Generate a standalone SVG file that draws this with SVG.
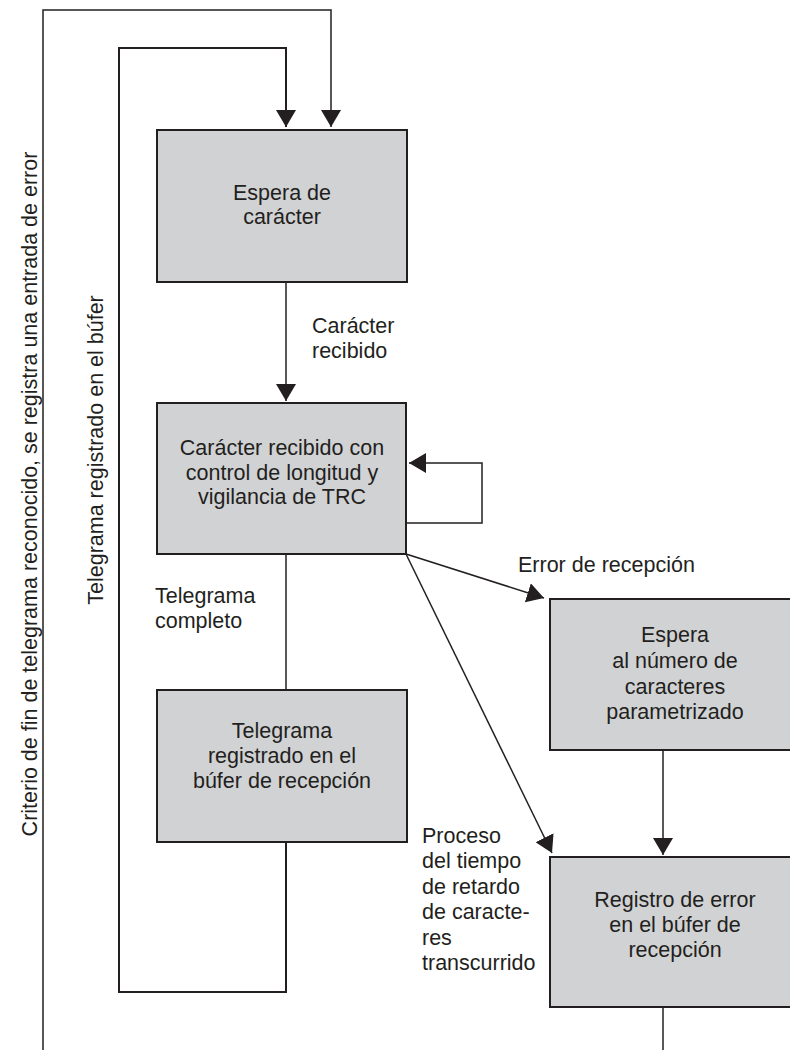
<svg xmlns="http://www.w3.org/2000/svg" width="790" height="1050" viewBox="0 0 790 1050">
  <style>
    .box { fill: #d1d2d4; stroke: #231f20; stroke-width: 2; }
    .t { font-family: "Liberation Sans", Arial, sans-serif; font-size: 21.5px; fill: #231f20; }
    .c { text-anchor: middle; }
    .ln { fill: none; stroke: #231f20; stroke-width: 1.5; }
    .thick { stroke-width: 2; }
  </style>
  <defs>
    <marker id="arrow" markerUnits="userSpaceOnUse" markerWidth="18" markerHeight="20" refX="17" refY="10" orient="auto">
      <path d="M0,0 L17,10 L0,20 Z" fill="#231f20"/>
    </marker>
  </defs>

  <g id="connectors">
    <!-- outer return loop: end criterion / error entry -->
    <path class="ln" d="M43,1050 V10 H331 V127" marker-end="url(#arrow)"/>
    <!-- inner return loop: telegram stored in buffer -->
    <path class="ln thick" d="M286,842 V992 H119 V48 H286 V127" marker-end="url(#arrow)"/>
    <!-- character received -->
    <path class="ln" d="M286,282 V401" marker-end="url(#arrow)"/>
    <!-- self loop -->
    <path class="ln" d="M407,523 H482 V463 H409" marker-end="url(#arrow)"/>
    <!-- telegram complete -->
    <path class="ln" d="M286,554 V690"/>
    <!-- reception error -->
    <path class="ln" d="M406,554 L544,598" marker-end="url(#arrow)"/>
    <!-- delay time elapsed -->
    <path class="ln" d="M406,554 L552,853" marker-end="url(#arrow)"/>
    <!-- parameterised count reached -->
    <path class="ln" d="M663,750 V855" marker-end="url(#arrow)"/>
    <!-- continues below -->
    <path class="ln" d="M663,1007 V1050"/>
  </g>

  <g id="wait-char">
    <rect class="box" x="157" y="130" width="250" height="152"/>
    <text class="t c" x="282" y="200">Espera de</text>
    <text class="t c" x="282" y="224">carácter</text>
  </g>

  <g id="char-received">
    <rect class="box" x="157" y="403" width="249" height="151"/>
    <text class="t c" x="282" y="455">Carácter recibido con</text>
    <text class="t c" x="282" y="480">control de longitud y</text>
    <text class="t c" x="282" y="504">vigilancia de TRC</text>
  </g>

  <g id="telegram-stored">
    <rect class="box" x="157" y="690" width="250" height="152"/>
    <text class="t c" x="282" y="738">Telegrama</text>
    <text class="t c" x="282" y="763">registrado en el</text>
    <text class="t c" x="282" y="788">búfer de recepción</text>
  </g>

  <g id="wait-count">
    <rect class="box" x="550" y="599" width="250" height="151"/>
    <text class="t c" x="675" y="642">Espera</text>
    <text class="t c" x="675" y="668">al número de</text>
    <text class="t c" x="675" y="694">caracteres</text>
    <text class="t c" x="675" y="719">parametrizado</text>
  </g>

  <g id="error-entry">
    <rect class="box" x="550" y="857" width="250" height="150"/>
    <text class="t c" x="675" y="907">Registro de error</text>
    <text class="t c" x="675" y="932">en el búfer de</text>
    <text class="t c" x="675" y="957">recepción</text>
  </g>

  <g id="labels">
    <text class="t" x="312" y="333">Carácter</text>
    <text class="t" x="312" y="358">recibido</text>
    <text class="t" x="155" y="603">Telegrama</text>
    <text class="t" x="155" y="628">completo</text>
    <text class="t" x="518" y="572">Error de recepción</text>
    <text class="t" x="422" y="843">Proceso</text>
    <text class="t" x="422" y="868">del tiempo</text>
    <text class="t" x="422" y="894">de retardo</text>
    <text class="t" x="422" y="919">de caracte-</text>
    <text class="t" x="422" y="945">res</text>
    <text class="t" x="422" y="970">transcurrido</text>
    <text class="t c" transform="translate(37,494) rotate(-90)">Criterio de fin de telegrama reconocido, se registra una entrada de error</text>
    <text class="t c" transform="translate(103,450) rotate(-90)">Telegrama registrado en el búfer</text>
  </g>
</svg>
